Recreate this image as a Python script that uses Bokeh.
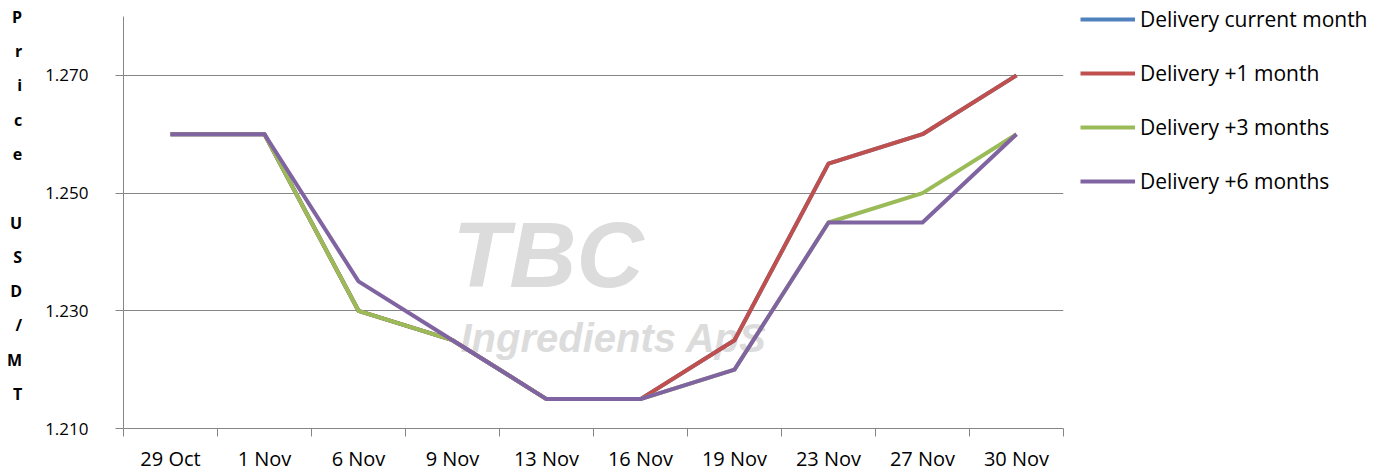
from bokeh.plotting import figure
from bokeh.models import FixedTicker, Legend, LegendItem, Label, Range1d
from bokeh.embed import file_html
from bokeh.resources import INLINE

categories = ["29 Oct", "1 Nov", "6 Nov", "9 Nov", "13 Nov", "16 Nov",
              "19 Nov", "23 Nov", "27 Nov", "30 Nov"]
delivery_current = [1.260, 1.260, 1.230, 1.225, 1.215, 1.215, 1.225, 1.255, 1.260, 1.270]
delivery_plus1 = [1.260, 1.260, 1.230, 1.225, 1.215, 1.215, 1.225, 1.255, 1.260, 1.270]
delivery_plus3 = [1.260, 1.260, 1.230, 1.225, 1.215, 1.215, 1.220, 1.245, 1.250, 1.260]
delivery_plus6 = [1.260, 1.260, 1.235, 1.225, 1.215, 1.215, 1.220, 1.245, 1.245, 1.260]
series_names = ["Delivery current month", "Delivery +1 month",
                "Delivery +3 months", "Delivery +6 months"]
series_colors = ["#4F81BD", "#C0504D", "#9BBB59", "#8064A2"]
y_ticks = [1.210, 1.230, 1.250, 1.270]
y_tick_labels = ["1.210", "1.230", "1.250", "1.270"]
y_title = "P\nr\ni\nc\ne\n\nU\nS\nD\n/\nM\nT\n "

FONT = "Open Sans"
GRID = "#868686"

x_centers = [i + 0.5 for i in range(len(categories))]

p = figure(frame_width=940, frame_height=412, output_backend="svg", toolbar_location=None,
           x_range=Range1d(0, len(categories)), y_range=Range1d(1.210, 1.280),
           min_border_left=123, min_border_right=294, min_border_top=16,
           min_border_bottom=34)
p.outline_line_color = None
p.background_fill_color = "white"

# watermark
p.add_layout(Label(x=3.50, y=1.2307, text="TBC", text_font="Liberation Sans",
                   text_font_style="bold italic", text_font_size="93px",
                   text_color="#dcdcdc", level="underlay"))
p.add_layout(Label(x=3.585, y=1.2217, text="Ingredients ApS", text_font="Liberation Sans",
                   text_font_style="bold italic", text_font_size="40px",
                   text_color="#dcdcdc", level="underlay"))

renderers = []
for vals, name, col in zip([delivery_current, delivery_plus1, delivery_plus3, delivery_plus6],
                           series_names, series_colors):
    r = p.line(x_centers, vals, line_color=col, line_width=4, line_join="round")
    renderers.append(r)

# axes
xa = p.xaxis[0]
xa.ticker = FixedTicker(ticks=x_centers, minor_ticks=list(range(len(categories) + 1)))
xa.major_label_overrides = {x: c for x, c in zip(x_centers, categories)}
xa.major_tick_out = 0
xa.major_tick_in = 0
xa.minor_tick_out = 8
xa.minor_tick_in = 0
xa.minor_tick_line_color = GRID
xa.axis_line_color = GRID
xa.major_label_text_font = FONT
xa.major_label_text_font_size = "20px"
xa.major_label_text_color = "black"
xa.major_label_standoff = 8

ya = p.yaxis[0]
ya.ticker = FixedTicker(ticks=y_ticks, minor_ticks=[])
ya.major_label_overrides = {t: l for t, l in zip(y_ticks, y_tick_labels)}
ya.major_tick_out = 8
ya.major_tick_in = 0
ya.minor_tick_out = 0
ya.minor_tick_in = 0
ya.major_tick_line_color = GRID
ya.axis_line_color = GRID
ya.major_label_text_font = FONT
ya.major_label_text_font_size = "17px"
ya.major_label_text_color = "black"
ya.major_label_standoff = 27
ya.axis_label = y_title
ya.axis_label_orientation = "horizontal"
ya.axis_label_text_font = FONT
ya.axis_label_text_font_size = "16px"
ya.axis_label_text_font_style = "bold"
ya.axis_label_text_color = "black"
ya.axis_label_text_line_height = 1.56
ya.axis_label_standoff = 20

p.xgrid.visible = False
p.ygrid.ticker = FixedTicker(ticks=y_ticks[1:])
p.ygrid.grid_line_color = GRID
p.ygrid.grid_line_width = 1

legend = Legend(items=[LegendItem(label=n, renderers=[r]) for n, r in zip(series_names, renderers)],
                location=(17, 232), orientation="vertical")
legend.margin = 0
legend.padding = 0
legend.border_line_color = None
legend.background_fill_alpha = 0
legend.glyph_width = 55
legend.glyph_height = 30
legend.label_height = 30
legend.label_standoff = 5
legend.spacing = 24
legend.label_text_font = FONT
legend.label_text_font_size = "21px"
legend.label_text_color = "black"
p.add_layout(legend, "right")

open("out.html", "w").write(file_html(p, INLINE))
